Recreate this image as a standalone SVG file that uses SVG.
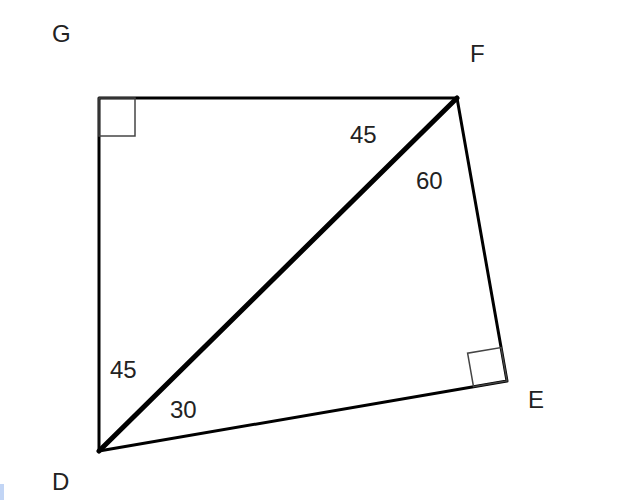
<svg xmlns="http://www.w3.org/2000/svg" width="620" height="500" viewBox="0 0 620 500">
<style>
.edge{stroke:#000;stroke-width:3;fill:none;stroke-linejoin:round;stroke-linecap:round}
.diag{stroke:#000;stroke-width:5;fill:none;stroke-linecap:round}
.ra{stroke:#444;stroke-width:1.5;fill:none}
.lbl{font-family:"Liberation Sans",Arial,sans-serif;font-size:24px;fill:#222}
</style>
<rect width="620" height="500" fill="#fff"/>
<rect x="0" y="484" width="4" height="16" fill="#c2d5f5"/>
<g id="shape">
<polygon class="edge" points="99,98 457,98 507,381 99,451"/>
<line class="diag" x1="99" y1="451" x2="457" y2="98"/>
<rect class="ra" x="99" y="98" width="36" height="38"/>
<polygon class="ra" points="507,381 501.1,347.5 467.6,353.2 473.5,386.7"/>
</g>
<g id="labels">
<text class="lbl" x="52" y="42">G</text>
<text class="lbl" x="470" y="62">F</text>
<text class="lbl" x="528" y="408">E</text>
<text class="lbl" x="52" y="490">D</text>
<text class="lbl" x="350" y="143">45</text>
<text class="lbl" x="416" y="189">60</text>
<text class="lbl" x="110" y="378">45</text>
<text class="lbl" x="170" y="418">30</text>
</g>
</svg>
